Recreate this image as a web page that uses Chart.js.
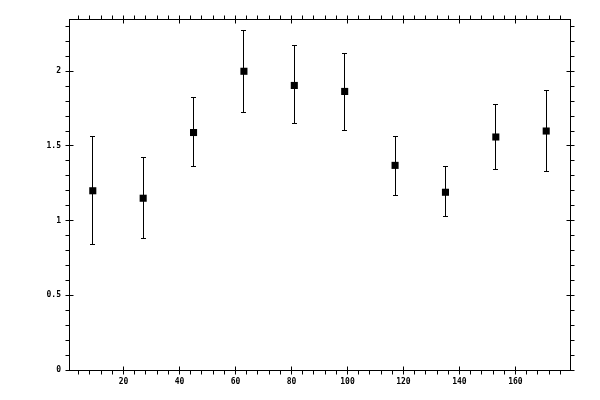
<!DOCTYPE html>
<html>
<head>
<meta charset="utf-8">
<script src="https://cdn.jsdelivr.net/npm/chart.js@4"></script>
<style>
  html, body { margin: 0; padding: 0; background: #fff; }
  canvas { display: block; }
</style>
</head>
<body>
<canvas id="errChart" width="600" height="400"></canvas>
<script>
"use strict";

// data
const xValues = [9, 27, 45, 63, 81, 99, 117, 135, 153, 171];
const yValues = [1.2, 1.15, 1.59, 2.0, 1.905, 1.865, 1.37, 1.19, 1.56, 1.6];
const yUpper = [1.56, 1.42, 1.825, 2.275, 2.17, 2.12, 1.565, 1.36, 1.775, 1.87];
const yLower = [0.84, 0.88, 1.365, 1.725, 1.65, 1.605, 1.17, 1.03, 1.345, 1.33];

const xTicks = [20, 40, 60, 80, 100, 120, 140, 160];
const yTicks = [0, 0.5, 1, 1.5, 2];
const yTickLabels = ["0", "0.5", "1", "1.5", "2"];

const X_MIN = 0.5, X_MAX = 179.5;
const Y_MIN = 0, Y_MAX = 2.35;
const X_MINOR = 4, Y_MINOR = 0.1;

const tickFont = { family: "DejaVu Sans Mono", size: 8, weight: "bold" };

function align(v) {
  return Math.round(v - 0.5) + 0.5;
}

// error bars drawn under the markers
const errorBars = {
  id: "errorBars",
  beforeDatasetsDraw(chart) {
    const { ctx, scales: { x, y } } = chart;
    ctx.save();
    ctx.strokeStyle = "#000";
    ctx.lineWidth = 1;
    ctx.beginPath();
    xValues.forEach((xv, i) => {
      const px = align(x.getPixelForValue(xv));
      const top = align(y.getPixelForValue(yUpper[i]));
      const bot = align(y.getPixelForValue(yLower[i]));
      ctx.moveTo(px, top);
      ctx.lineTo(px, bot);
      ctx.moveTo(px - 2.5, top);
      ctx.lineTo(px + 2.5, top);
      ctx.moveTo(px - 2.5, bot);
      ctx.lineTo(px + 2.5, bot);
    });
    ctx.stroke();
    ctx.restore();
  },
};

// major ticks cross the frame, minor ticks point outward, on all four sides
const frameTicks = {
  id: "frameTicks",
  afterDraw(chart) {
    const { ctx, chartArea: a, scales: { x, y } } = chart;
    const L = align(a.left), R = align(a.right), T = align(a.top), B = align(a.bottom);
    ctx.save();
    ctx.strokeStyle = "#000";
    ctx.lineWidth = 1;
    ctx.beginPath();
    for (let i = 0; i * X_MINOR <= X_MAX; i++) {
      const v = i * X_MINOR;
      if (v < X_MIN) continue;
      const px = align(x.getPixelForValue(v));
      const major = i % 5 === 0;
      ctx.moveTo(px, B + 4);
      ctx.lineTo(px, major ? B - 4 : B);
      ctx.moveTo(px, T - 4);
      ctx.lineTo(px, major ? T + 4 : T);
    }
    for (let i = 0; i * Y_MINOR <= Y_MAX + 1e-9; i++) {
      const v = Math.round(i * Y_MINOR * 10) / 10;
      const py = align(y.getPixelForValue(v));
      const major = i % 5 === 0;
      ctx.moveTo(L - 4, py);
      ctx.lineTo(major ? L + 4 : L, py);
      ctx.moveTo(R + 4, py);
      ctx.lineTo(major ? R - 4 : R, py);
    }
    ctx.stroke();
    ctx.restore();
  },
};

const plainAxis = {
  grid: { display: false, drawTicks: false },
  border: { display: true, color: "#000", width: 1 },
};

new Chart(document.getElementById("errChart").getContext("2d"), {
  type: "scatter",
  data: {
    datasets: [
      {
        data: xValues.map((xv, i) => ({ x: xv, y: yValues[i] })),
        pointStyle: "rect",
        pointRadius: 5,
        pointBorderWidth: 0,
        backgroundColor: "#000",
        borderColor: "#000",
        xAxisID: "x",
        yAxisID: "y",
      },
    ],
  },
  options: {
    responsive: false,
    animation: false,
    devicePixelRatio: 1,
    layout: { padding: 0 },
    plugins: { legend: { display: false }, tooltip: { enabled: false } },
    scales: {
      x: {
        ...plainAxis,
        type: "linear",
        position: "bottom",
        min: X_MIN,
        max: X_MAX,
        afterBuildTicks: (s) => { s.ticks = xTicks.map((v) => ({ value: v })); },
        afterFit: (s) => { s.height = 30; },
        ticks: { color: "#000", font: tickFont, padding: 7, maxRotation: 0, autoSkip: false, callback: (v) => String(v) },
      },
      y: {
        ...plainAxis,
        type: "linear",
        position: "left",
        min: Y_MIN,
        max: Y_MAX,
        afterBuildTicks: (s) => { s.ticks = yTicks.map((v) => ({ value: v })); },
        afterFit: (s) => { s.width = 69; },
        ticks: {
          color: "#000",
          font: tickFont,
          padding: 8,
          autoSkip: false,
          callback: (v) => yTickLabels[yTicks.indexOf(v)] ?? String(v),
        },
      },
      x2: {
        ...plainAxis,
        type: "linear",
        position: "top",
        min: X_MIN,
        max: X_MAX,
        ticks: { display: false },
        afterFit: (s) => { s.height = 19; },
      },
      y2: {
        ...plainAxis,
        type: "linear",
        position: "right",
        min: Y_MIN,
        max: Y_MAX,
        ticks: { display: false },
        afterFit: (s) => { s.width = 30; },
      },
    },
  },
  plugins: [errorBars, frameTicks],
});
</script>
</body>
</html>
